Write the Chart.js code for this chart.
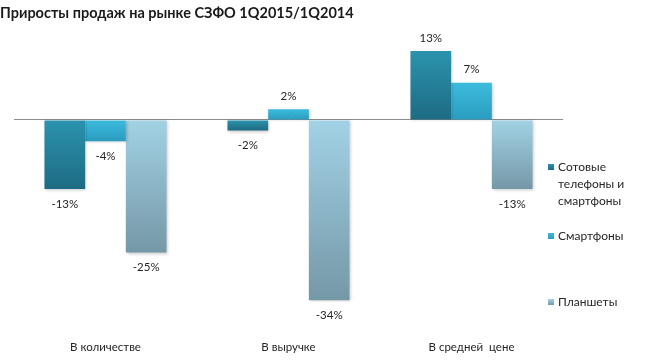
<!DOCTYPE html>
<html>
<head>
<meta charset="utf-8">
<script src="https://cdn.jsdelivr.net/npm/chart.js@4"></script>
<style>
  html, body { margin: 0; padding: 0; background: #fff; }
  #wrap { width: 646px; height: 362px; }
</style>
</head>
<body>
<div id="wrap"><canvas id="growthChart" width="646" height="362"></canvas></div>
<script>
const categories = ['В количестве', 'В выручке', 'В средней  цене'];
const seriesNames = ['Сотовые телефоны и смартфоны', 'Смартфоны', 'Планшеты'];
const phonesValues = [-13, -2, 13];
const smartphonesValues = [-4, 2, 7];
const tabletsValues = [-25, -34, -13];

const fontFamily = 'Lato, "Open Sans", sans-serif';
// top / bottom colours of each bar gradient
const shades = [
  ['#2b93ae', '#1d6b83'],
  ['#3cbbdd', '#2a9cbf'],
  ['#a2d2e5', '#7598a7']
];
// first-line y of every legend entry
const legendRows = [167, 236, 302];

function barFill(i) {
  return (c) => {
    const chart = c.chart;
    const y = chart.scales && chart.scales.y;
    if (!y || c.raw === undefined) return shades[i][0];
    const p = y.getPixelForValue(c.raw);
    const z = y.getPixelForValue(0);
    if (!isFinite(p) || !isFinite(z)) return shades[i][0];
    const top = Math.min(p, z), bottom = Math.max(p, z);
    const g = chart.ctx.createLinearGradient(0, top, 0, bottom === top ? top + 1 : bottom);
    g.addColorStop(0, shades[i][0]);
    g.addColorStop(1, shades[i][1]);
    return g;
  };
}

const decorations = {
  id: 'decorations',
  beforeDatasetsDraw(chart) {
    const ctx = chart.ctx;
    ctx.save();
    ctx.shadowColor = 'rgba(0,0,0,0.22)';
    ctx.shadowBlur = 3;
    ctx.shadowOffsetX = 1;
    ctx.shadowOffsetY = 1;
  },
  afterDatasetsDraw(chart) {
    const ctx = chart.ctx;
    ctx.restore();
    ctx.save();
    ctx.font = '11.5px ' + fontFamily;
    ctx.fillStyle = '#262626';
    ctx.textAlign = 'center';
    ctx.textBaseline = 'middle';
    chart.data.datasets.forEach((ds, i) => {
      chart.getDatasetMeta(i).data.forEach((bar, j) => {
        const v = ds.data[j];
        const y = v >= 0 ? bar.y - 13 : bar.y + 15;
        ctx.fillText(v + '%', bar.x, y);
      });
    });

    // legend on the right
    ctx.textAlign = 'left';
    ctx.font = '12px ' + fontFamily;
    const x = 548, maxW = 80, lh = 17;
    chart.data.datasets.forEach((ds, i) => {
      const words = ds.label.split(' ');
      const lines = [];
      let cur = '';
      words.forEach(w => {
        const t = cur ? cur + ' ' + w : w;
        if (cur && ctx.measureText(t).width > maxW) { lines.push(cur); cur = w; } else cur = t;
      });
      lines.push(cur);
      const y0 = legendRows[i];
      const g = ctx.createLinearGradient(0, y0 - 3, 0, y0 + 3);
      g.addColorStop(0, shades[i][0]);
      g.addColorStop(1, shades[i][1]);
      ctx.fillStyle = g;
      ctx.fillRect(x, y0 - 3, 6, 6);
      ctx.fillStyle = '#262626';
      lines.forEach((l, k) => ctx.fillText(l, x + 10, y0 + k * lh));
    });
    ctx.restore();
  }
};

new Chart(document.getElementById('growthChart'), {
  type: 'bar',
  data: {
    labels: categories,
    datasets: [
      { label: seriesNames[0], data: phonesValues, backgroundColor: barFill(0) },
      { label: seriesNames[1], data: smartphonesValues, backgroundColor: barFill(1) },
      { label: seriesNames[2], data: tabletsValues, backgroundColor: barFill(2) }
    ]
  },
  options: {
    responsive: false,
    animation: false,
    layout: { padding: { left: 0, right: 83, top: 0, bottom: 0 } },
    datasets: { bar: { categoryPercentage: 0.667, barPercentage: 1, borderWidth: 0 } },
    plugins: {
      legend: { display: false },
      tooltip: { enabled: false },
      title: {
        display: true,
        text: 'Приросты продаж на рынке СЗФО 1Q2015/1Q2014',
        align: 'start',
        color: '#1a1a1a',
        font: { family: fontFamily, size: 14.5, weight: 'bold' },
        padding: { top: 5, bottom: 2 }
      }
    },
    scales: {
      x: {
        grid: { display: false, drawTicks: false },
        border: { display: false },
        ticks: { color: '#262626', padding: 8, font: { family: fontFamily, size: 11.5 } }
      },
      y: {
        min: -40,
        max: 18,
        afterFit(scale) { scale.width = 14; },
        ticks: { display: false, stepSize: 1 },
        border: { display: false },
        grid: {
          drawTicks: false,
          color: (c) => c.tick && c.tick.value === 0 ? '#8c8c8c' : 'rgba(0,0,0,0)',
          lineWidth: 1
        }
      }
    }
  },
  plugins: [decorations]
});
</script>
</body>
</html>
